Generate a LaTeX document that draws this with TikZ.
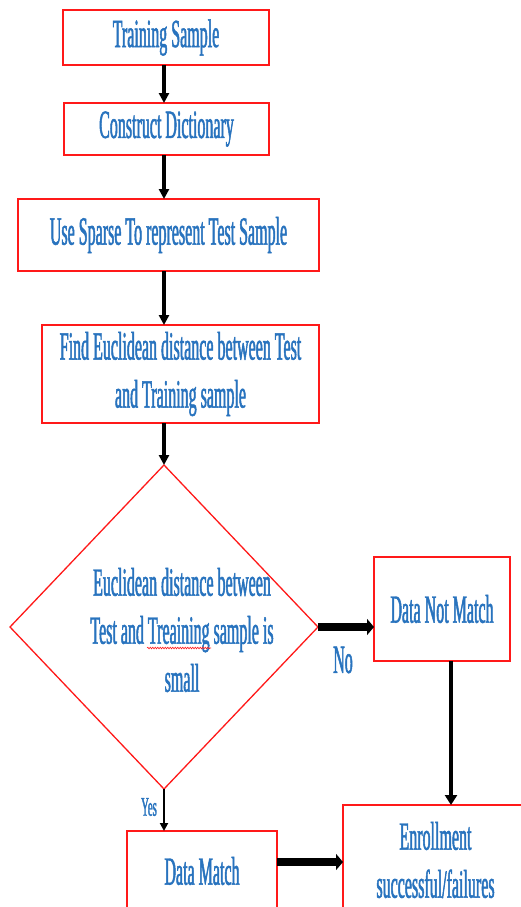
\documentclass[tikz,border=0pt]{standalone}
\usepackage{fontspec}
\setmainfont[FakeStretch=0.40,FakeBold=1.2]{Liberation Serif}
\usetikzlibrary{shapes.geometric,arrows.meta,decorations.pathmorphing}
\definecolor{txtblue}{RGB}{40,115,190}
\definecolor{boxred}{RGB}{255,25,25}
\begin{document}
\begin{tikzpicture}[x=1pt,y=-1pt,
  bigfont/.style={font=\fontsize{40}{48}\selectfont},
  box/.style={draw=boxred, line width=1.5pt, fill=white, inner sep=0pt,
    outer sep=0pt, text=txtblue, align=center, bigfont},
  label/.style={text=txtblue, inner sep=0pt, align=center},
  flow/.style={line width=3.5pt, -{Triangle[length=10pt,width=10pt]}},
  thinflow/.style={line width=2.5pt, -{Triangle[length=8pt,width=8pt]}},
  midflow/.style={line width=4.5pt, -{Triangle[length=10pt,width=12pt]}},
  heavy/.style={line width=8pt, -{Triangle[length=7pt,width=16pt]}}]
\useasboundingbox (0,0) rectangle (521,907);
\clip (0,0) rectangle (521,907);
\coordinate (spine) at (164,0);

% main column
\node[box, minimum width=206pt, minimum height=55pt] (b1) at (166,37.5) {\raisebox{-2pt}{Training Sample}};
\node[box, minimum width=205pt, minimum height=52pt] (b2) at (166.5,129) {\raisebox{-2pt}{Construct Dictionary}};
\node[box, minimum width=301pt, minimum height=72pt] (b3) at (168.5,235) {\raisebox{-2pt}{Use Sparse To represent Test Sample}};
\node[box, minimum width=277pt, minimum height=98pt] (b4) at (180.5,374) {Find Euclidean distance between Test\\and Training sample};

% decision
\node[diamond, draw=boxred, line width=1.3pt, minimum width=308pt, minimum height=324pt,
  inner sep=0pt, outer sep=0pt] (dec) at (164,627) {};
\node[label, bigfont] (dtext) at (182,630) {Euclidean distance between\\Test and Treaining sample is\\small};
\draw[boxred, line width=0.6pt, decorate,
  decoration={snake, amplitude=0.8pt, segment length=2.5pt}] (147,648) -- (211,648);

% outcomes
\node[box, minimum width=136pt, minimum height=104pt] (nomatch) at (442,609) {Data Not Match};
\node[box, minimum width=150pt, minimum height=80pt] (match) at (202,871) {Data Match};
\node[box, minimum width=185pt, minimum height=110pt] (enroll) at (435.5,860) {Enrollment\\successful/failures};

% connectors
\draw[flow] (b1.south -| spine) -- (b2.north -| spine);
\draw[flow] (b2.south -| spine) -- (b3.north -| spine);
\draw[flow] (b3.south -| spine) -- (b4.north -| spine);
\draw[flow] (b4.south -| spine) -- (dec.north);
\draw[heavy] (dec.east) -- (nomatch.west |- dec.east);
\node[label, bigfont] (nolbl) at (343,660) {No};
\draw[thinflow] (dec.south) -- (match.north -| dec.south);
\node[label, font=\fontsize{27}{32}\selectfont] (yeslbl) at (149,807) {Yes};
\draw[midflow] ([xshift=9pt]nomatch.south) -- ([xshift=9pt]nomatch.south |- enroll.north);
\draw[heavy] ([yshift=9pt]match.east) -- ([yshift=9pt]match.east -| enroll.west);
\end{tikzpicture}
\end{document}
